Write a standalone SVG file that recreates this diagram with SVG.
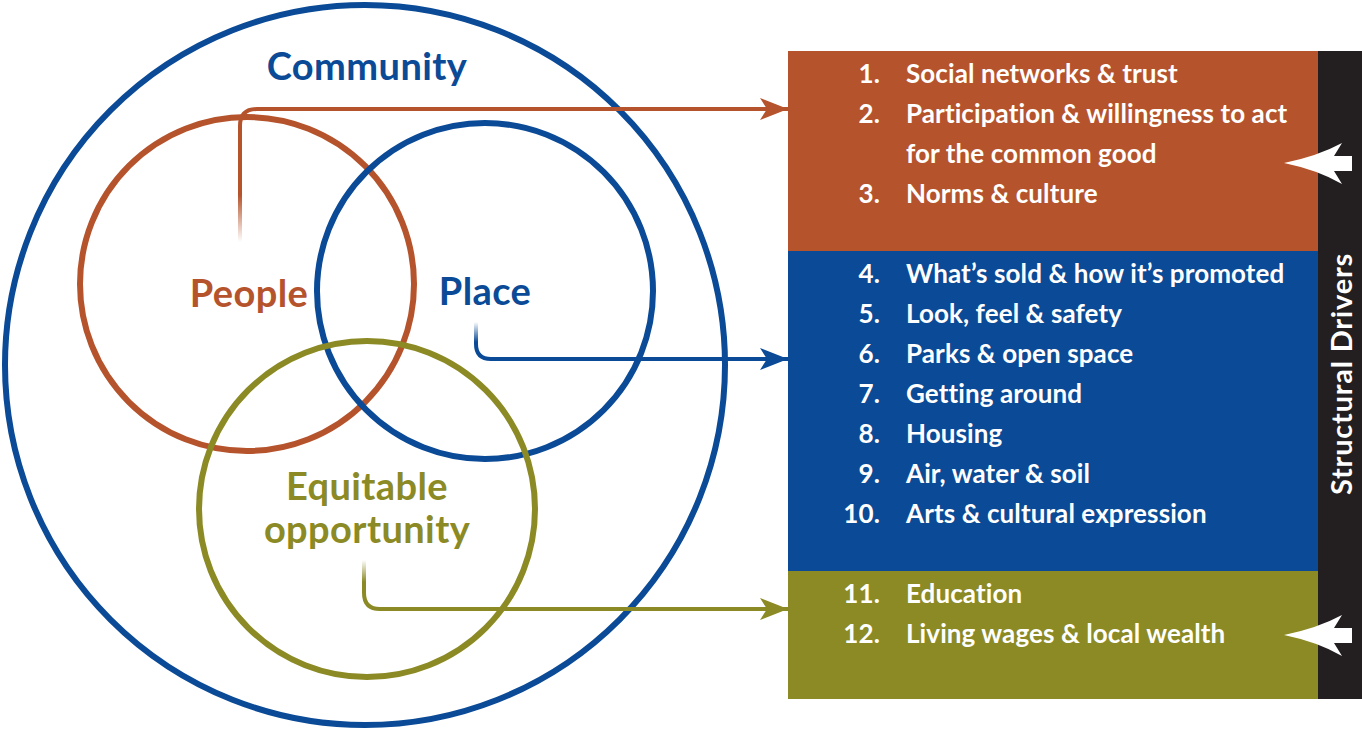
<svg xmlns="http://www.w3.org/2000/svg" width="1362" height="730" viewBox="0 0 1362 730">
<style>
.ring{fill:none;stroke-width:6}
.item{font-family:Lato,"Open Sans",sans-serif;font-weight:bold;font-size:26px;letter-spacing:0.1px;fill:#fff}
.num{text-anchor:end}
.lab{font-family:Lato,"Open Sans",sans-serif;font-weight:bold;font-size:38px;letter-spacing:0.4px;text-anchor:middle}
.conn{fill:none;stroke-width:4}
</style>
<defs>
<linearGradient id="gP" gradientUnits="userSpaceOnUse" x1="0" y1="242" x2="0" y2="195"><stop offset="0" stop-color="#b5532c" stop-opacity="0"/><stop offset="1" stop-color="#b5532c"/></linearGradient>
<linearGradient id="gL" gradientUnits="userSpaceOnUse" x1="0" y1="322" x2="0" y2="342"><stop offset="0" stop-color="#0a4a96" stop-opacity="0"/><stop offset="1" stop-color="#0a4a96"/></linearGradient>
<linearGradient id="gE" gradientUnits="userSpaceOnUse" x1="0" y1="560" x2="0" y2="582"><stop offset="0" stop-color="#8b8a24" stop-opacity="0"/><stop offset="1" stop-color="#8b8a24"/></linearGradient>
<marker id="aO" markerUnits="userSpaceOnUse" markerWidth="30" markerHeight="24" refX="28" refY="11" orient="auto"><path d="M0 0 L28 11 L0 22 L7 11 Z" fill="#b5532c"/></marker>
<marker id="aB" markerUnits="userSpaceOnUse" markerWidth="30" markerHeight="24" refX="28" refY="11" orient="auto"><path d="M0 0 L28 11 L0 22 L7 11 Z" fill="#0a4a96"/></marker>
<marker id="aE" markerUnits="userSpaceOnUse" markerWidth="30" markerHeight="24" refX="28" refY="11" orient="auto"><path d="M0 0 L28 11 L0 22 L7 11 Z" fill="#8b8a24"/></marker>
</defs>

<g id="community">
<circle class="ring" cx="365" cy="365" r="360" stroke="#0a4a96"/>
<text class="lab" x="367" y="80" fill="#0a4a96" letter-spacing="1.5">Community</text>
</g>
<g id="people">
<circle class="ring" cx="247" cy="284" r="167" stroke="#b5532c"/>
<text class="lab" x="249" y="307" fill="#b5532c">People</text>
</g>
<g id="place">
<circle class="ring" cx="485" cy="291" r="168" stroke="#0a4a96"/>
<text class="lab" x="485" y="305" fill="#0a4a96">Place</text>
</g>
<g id="equitable">
<circle class="ring" cx="367" cy="509" r="168" stroke="#8b8a24"/>
<text class="lab" x="367" y="500" fill="#8b8a24">Equitable</text>
<text class="lab" x="367" y="543" fill="#8b8a24">opportunity</text>
</g>

<g id="panel">
<rect x="788" y="51" width="530" height="200" fill="#b5532c"/>
<rect x="788" y="251" width="530" height="320" fill="#0a4a96"/>
<rect x="788" y="571" width="530" height="128" fill="#8b8a24"/>
<rect x="1318" y="51" width="44" height="648" fill="#231f20"/>
<text x="1352" y="374" transform="rotate(-90 1352 374)" text-anchor="middle" font-family="Lato,'Open Sans',sans-serif" font-weight="bold" font-size="29" letter-spacing="0.8" fill="#fff">Structural Drivers</text>
<path d="M1284 163 Q1318 156 1342 143 L1334 156 H1352 V171 H1334 L1342 184 Q1318 170 1284 163 Z" fill="#fff"/>
<path d="M1284 635 Q1318 628 1342 615 L1334 628 H1352 V643 H1334 L1342 656 Q1318 642 1284 635 Z" fill="#fff"/>
</g>

<g id="items">
<text class="item num" x="880" y="83">1.</text><text class="item" x="906" y="83">Social networks &amp; trust</text>
<text class="item num" x="880" y="123">2.</text><text class="item" x="906" y="123">Participation &amp; willingness to act</text>
<text class="item" x="906" y="163">for the common good</text>
<text class="item num" x="880" y="203">3.</text><text class="item" x="906" y="203">Norms &amp; culture</text>
<text class="item num" x="880" y="283">4.</text><text class="item" x="906" y="283">What’s sold &amp; how it’s promoted</text>
<text class="item num" x="880" y="323">5.</text><text class="item" x="906" y="323">Look, feel &amp; safety</text>
<text class="item num" x="880" y="363">6.</text><text class="item" x="906" y="363">Parks &amp; open space</text>
<text class="item num" x="880" y="403">7.</text><text class="item" x="906" y="403">Getting around</text>
<text class="item num" x="880" y="443">8.</text><text class="item" x="906" y="443">Housing</text>
<text class="item num" x="880" y="483">9.</text><text class="item" x="906" y="483">Air, water &amp; soil</text>
<text class="item num" x="880" y="523">10.</text><text class="item" x="906" y="523">Arts &amp; cultural expression</text>
<text class="item num" x="880" y="603">11.</text><text class="item" x="906" y="603">Education</text>
<text class="item num" x="880" y="643">12.</text><text class="item" x="906" y="643">Living wages &amp; local wealth</text>
</g>

<g id="connectors">
<path class="conn" d="M240 242 V126 Q240 109 257 109 H788" stroke="url(#gP)" marker-end="url(#aO)"/>
<path class="conn" d="M476 322 V344 Q476 359 491 359 H788" stroke="url(#gL)" marker-end="url(#aB)"/>
<path class="conn" d="M364 560 V593 Q364 609 380 609 H788" stroke="url(#gE)" marker-end="url(#aE)"/>
</g>
</svg>
